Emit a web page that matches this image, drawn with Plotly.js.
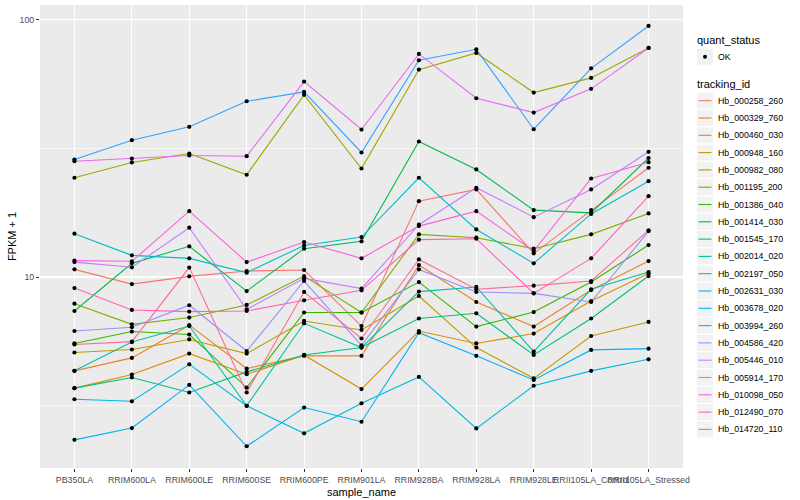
<!DOCTYPE html>
<html><head><meta charset="utf-8">
<script src="https://cdn.plot.ly/plotly-3.0.1.min.js"></script>
<style>html,body{margin:0;padding:0;background:#fff}#chart{width:800px;height:500px}</style>
</head><body><div id="chart"></div>
<script>
// ---- data ----
const samples = ["PB350LA","RRIM600LA","RRIM600LE","RRIM600SE","RRIM600PE","RRIM901LA","RRIM928BA","RRIM928LA","RRIM928LE","RRII105LA_Control","RRII105LA_Stressed"];
const trackingIds = ["Hb_000258_260","Hb_000329_760","Hb_000460_030","Hb_000948_160","Hb_000982_080","Hb_001195_200","Hb_001386_040","Hb_001414_030","Hb_001545_170","Hb_002014_020","Hb_002197_050","Hb_002631_030","Hb_003678_020","Hb_003994_260","Hb_004586_420","Hb_005446_010","Hb_005914_170","Hb_010098_050","Hb_012490_070","Hb_014720_110"];
const quantStatus = ["OK"];

const hb_000258_260 = [10.71, 9.39, 10.06, 10.55, 10.65, 6.45, 19.72, 21.90, 12.36, 18.20, 26.58];
const hb_000329_760 = [4.32, 4.85, 6.50, 4.41, 4.94, 4.94, 11.13, 8.00, 6.42, 8.90, 11.54];
const hb_000460_030 = [3.70, 4.18, 5.04, 4.19, 4.97, 3.67, 6.17, 5.52, 6.03, 8.07, 10.31];
const hb_000948_160 = [5.09, 5.23, 5.72, 5.04, 6.75, 6.23, 8.44, 5.32, 4.04, 5.90, 6.69];
const hb_000982_080 = [24.31, 27.87, 30.20, 24.97, 51.03, 26.41, 63.97, 74.26, 52.09, 59.40, 77.66];
const hb_001195_200 = [7.88, 6.55, 6.96, 7.79, 10.09, 7.28, 14.65, 14.22, 12.89, 14.65, 17.67];
const hb_001386_040 = [5.52, 6.14, 5.98, 3.72, 7.28, 7.28, 9.56, 6.42, 7.31, 9.56, 13.31];
const hb_001414_030 = [7.38, 11.30, 13.16, 8.82, 12.89, 13.76, 33.62, 26.18, 18.20, 17.75, 29.01];
const hb_001545_170 = [3.70, 4.07, 3.56, 4.28, 4.98, 5.32, 6.90, 7.23, 4.98, 6.90, 10.09];
const hb_002014_020 = [4.32, 5.59, 6.45, 3.16, 6.61, 5.32, 8.78, 9.15, 5.13, 8.96, 10.46];
const hb_002197_050 = [14.74, 12.14, 11.82, 10.40, 13.27, 14.30, 24.31, 15.31, 11.30, 17.59, 23.58];
const hb_002631_030 = [3.35, 3.29, 4.58, 3.16, 2.47, 3.23, 4.09, 2.58, 3.78, 4.32, 4.79];
const hb_003678_020 = [2.33, 2.59, 3.81, 2.20, 3.11, 2.74, 6.08, 4.94, 3.98, 5.21, 5.27];
const hb_003994_260 = [28.62, 34.01, 38.34, 48.19, 52.41, 30.47, 69.51, 76.69, 37.52, 64.72, 94.53];
const hb_004586_420 = [6.17, 6.38, 7.77, 5.16, 9.65, 5.43, 10.71, 8.75, 8.64, 8.00, 15.08];
const hb_005446_010 = [11.43, 10.91, 15.55, 7.49, 9.88, 9.02, 15.97, 22.23, 17.09, 21.90, 30.66];
const hb_005914_170 = [28.19, 28.88, 29.67, 29.48, 57.47, 37.42, 73.60, 49.50, 43.56, 53.84, 77.66];
const hb_010098_050 = [11.58, 11.51, 18.03, 11.43, 13.67, 11.82, 15.77, 18.03, 12.62, 24.15, 27.94];
const hb_012490_070 = [9.06, 7.45, 7.34, 7.38, 8.12, 8.88, 13.97, 14.09, 8.64, 11.82, 20.62];
const hb_014720_110 = [5.47, 5.61, 10.88, 3.56, 8.75, 5.77, 11.71, 8.96, 9.26, 9.65, 15.18];

const yTickVals = [10, 100];
const yTickText = ["10", "100"];
const yMinorVals = [3.1623, 31.623];

const seriesValues = [hb_000258_260, hb_000329_760, hb_000460_030, hb_000948_160, hb_000982_080,
  hb_001195_200, hb_001386_040, hb_001414_030, hb_001545_170, hb_002014_020, hb_002197_050,
  hb_002631_030, hb_003678_020, hb_003994_260, hb_004586_420, hb_005446_010, hb_005914_170,
  hb_010098_050, hb_012490_070, hb_014720_110];

// ---- styles ----
const palette = ["#F8766D","#EA8331","#D89000","#C09B00","#A3A500","#7CAE00","#39B600","#00BB4E","#00BF7D","#00C1A3","#00BFC4","#00BAE0","#00B0F6","#35A2FF","#9590FF","#C77CFF","#E76BF3","#FA62DB","#FF62BC","#FF6C91"];
const FONT = "Liberation Sans, Arial, Helvetica, sans-serif";

const traces = [];
seriesValues.forEach((vals, i) => {
  traces.push({type: "scatter", mode: "lines", x: samples, y: vals, name: trackingIds[i],
    line: {color: palette[i], width: 1.1}, hoverinfo: "skip", showlegend: false});
});
seriesValues.forEach((vals, i) => {
  traces.push({type: "scatter", mode: "markers", x: samples, y: vals, name: quantStatus[0],
    marker: {color: "#000", size: 4.2}, hoverinfo: "skip", showlegend: false});
});

// ---- custom ggplot-like legend (paper coordinates from pixel layout) ----
const M = {l: 40, r: 117, t: 5, b: 32};
const W = 800 - M.l - M.r, H = 500 - M.t - M.b;
const px = x => (x - M.l) / W;
const py = y => (500 - M.b - y) / H;
const shapes = [], annotations = [];
function legendTitle(text, yc) {
  annotations.push({xref: "paper", yref: "paper", x: px(695), y: py(yc), xanchor: "left", yanchor: "middle",
    text: text, showarrow: false, font: {family: FONT, size: 11, color: "#000"}});
}
function keyBox(yc) {
  shapes.push({type: "rect", xref: "paper", yref: "paper", x0: px(697), x1: px(713), y0: py(yc + 8), y1: py(yc - 8),
    fillcolor: "#F2F2F2", line: {width: 0}, layer: "above"});
}
function keyLabel(text, yc) {
  annotations.push({xref: "paper", yref: "paper", x: px(716), y: py(yc), xanchor: "left", yanchor: "middle",
    text: text, showarrow: false, font: {family: FONT, size: 8.8, color: "#000"}});
}
legendTitle("quant_status", 40.5);
keyBox(56.7);
shapes.push({type: "circle", xref: "paper", yref: "paper", x0: px(703), x1: px(707), y0: py(58.7), y1: py(54.7),
  fillcolor: "#000", line: {width: 0}, layer: "above"});
keyLabel(quantStatus[0], 56.7);
legendTitle("tracking_id", 84);
trackingIds.forEach((id, i) => {
  const yc = 100.7 + 17.3 * i;
  keyBox(yc);
  shapes.push({type: "line", xref: "paper", yref: "paper", x0: px(698.5), x1: px(711.5), y0: py(yc), y1: py(yc),
    line: {color: palette[i], width: 1.1}, layer: "above"});
  keyLabel(id, yc);
});

const layout = {
  width: 800, height: 500,
  margin: M,
  paper_bgcolor: "#fff", plot_bgcolor: "#EBEBEB",
  font: {family: FONT, size: 8.8, color: "#4D4D4D"},
  showlegend: false,
  xaxis: {
    type: "category", categoryorder: "array", categoryarray: samples,
    range: [-0.6, samples.length - 0.4],
    showgrid: true, gridcolor: "#FFFFFF", gridwidth: 1.1,
    zeroline: false, showline: false,
    ticks: "outside", ticklen: 3, tickwidth: 1, tickcolor: "#333333",
    tickangle: 0, tickfont: {family: FONT, size: 8.8, color: "#4D4D4D"},
    title: {text: "sample_name", font: {family: FONT, size: 11, color: "#000"}, standoff: 4},
    automargin: false, fixedrange: true
  },
  yaxis: {
    type: "log", range: [0.258, 2.057],
    tickmode: "array", tickvals: yTickVals, ticktext: yTickText,
    showgrid: true, gridcolor: "#FFFFFF", gridwidth: 1.1,
    minor: {tickmode: "array", tickvals: yMinorVals, showgrid: true, gridcolor: "#FFFFFF", gridwidth: 0.55, ticks: ""},
    zeroline: false, showline: false,
    ticks: "outside", ticklen: 3, tickwidth: 1, tickcolor: "#333333",
    tickfont: {family: FONT, size: 8.8, color: "#4D4D4D"},
    title: {text: "FPKM + 1", font: {family: FONT, size: 11, color: "#000"}, standoff: 0},
    automargin: false, fixedrange: true
  },
  shapes: shapes,
  annotations: annotations
};

Plotly.newPlot("chart", traces, layout, {staticPlot: true, displayModeBar: false});
</script>
</body></html>
